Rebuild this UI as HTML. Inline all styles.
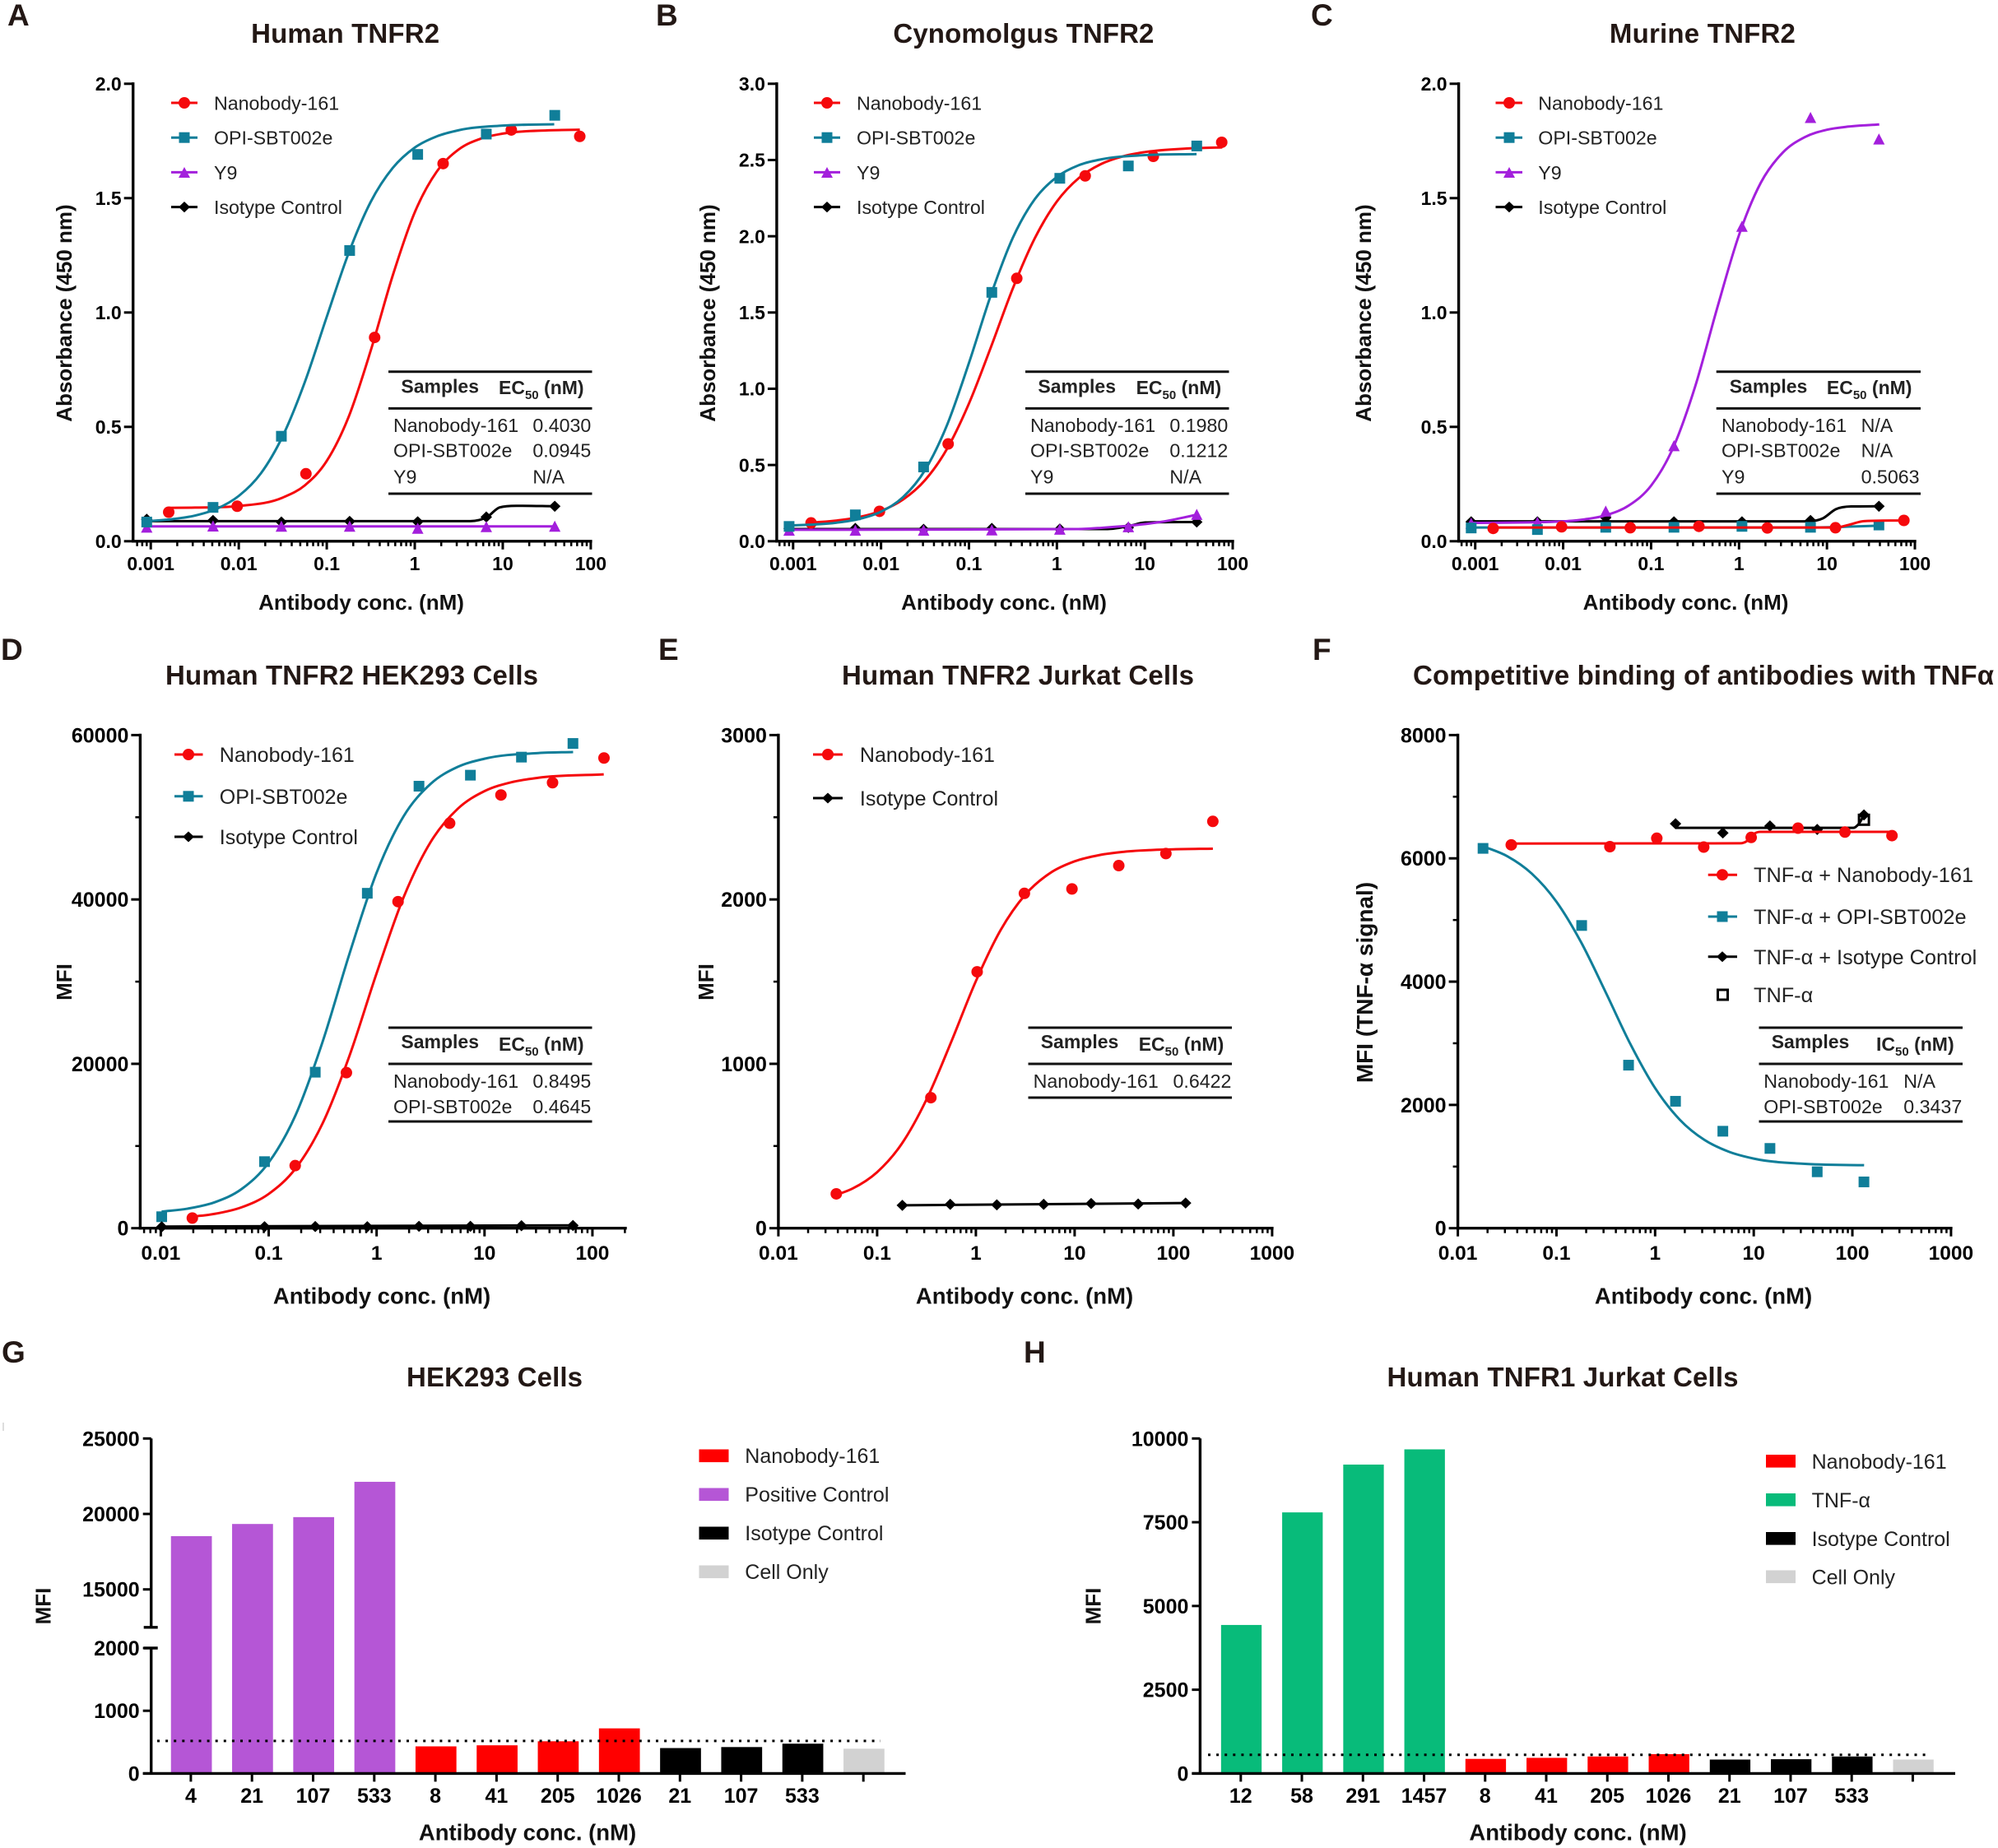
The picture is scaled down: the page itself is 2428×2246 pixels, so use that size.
<!DOCTYPE html>
<html lang="en">
<head>
<meta charset="utf-8">
<title>Antibody binding figure</title>
<style>
html,body{margin:0;padding:0;background:#fff}
svg{display:block;font-family:"Liberation Sans",Arial,sans-serif}
.letter{font-size:37px;font-weight:700;fill:#231815}
.title{font-size:33px;font-weight:700;fill:#231815;text-anchor:middle}
.axt{font-size:26px;font-weight:700;fill:#111;text-anchor:middle}
.axt2{font-size:27.5px;font-weight:700;fill:#111;text-anchor:middle}
.leg{font-size:23.2px;fill:#222}
.leg2{font-size:25px;fill:#222}
.leg3{font-size:25.3px;fill:#222}
.th{font-size:23px;font-weight:700;fill:#222}
.thc{font-size:23px;font-weight:700;fill:#222;text-anchor:middle}
.td{font-size:23.2px;fill:#222}
.rule{stroke:#111;stroke-width:3}
.ln{stroke-width:3;fill:none}
</style>
</head>
<body>
<svg id="figure" xmlns="http://www.w3.org/2000/svg" width="2428" height="2246" viewBox="0 0 2428 2246">
<rect width="2428" height="2246" fill="#fff"/>

<!-- panel letters -->
<text class="letter" x="9" y="31">A</text>
<text class="letter" x="797" y="31">B</text>
<text class="letter" x="1593" y="31">C</text>
<text class="letter" x="1" y="802">D</text>
<text class="letter" x="800" y="802">E</text>
<text class="letter" x="1595" y="802">F</text>
<text class="letter" x="2" y="1656">G</text>
<text class="letter" x="1244" y="1656">H</text>
<line x1="4" y1="1729" x2="4" y2="1739" stroke="#bbb" stroke-width="1"/>

<!-- titles -->
<text class="title" x="419.6" y="52" textLength="229">Human TNFR2</text>
<text class="title" x="1243.9" y="52" textLength="317">Cynomolgus TNFR2</text>
<text class="title" x="2068.9" y="52" textLength="226">Murine TNFR2</text>
<text class="title" x="427.5" y="832" textLength="453">Human TNFR2 HEK293 Cells</text>
<text class="title" x="1237" y="832" textLength="428">Human TNFR2 Jurkat Cells</text>
<text class="title" x="2070" y="832" textLength="706">Competitive binding of antibodies with TNFα</text>
<text class="title" x="601" y="1685" textLength="214">HEK293 Cells</text>
<text class="title" x="1899" y="1685" textLength="427">Human TNFR1 Jurkat Cells</text>

<!-- x axis titles -->
<text class="axt" x="439" y="741">Antibody conc. (nM)</text>
<text class="axt" x="1220" y="741">Antibody conc. (nM)</text>
<text class="axt" x="2048.5" y="741">Antibody conc. (nM)</text>
<text class="axt2" x="464" y="1584.5">Antibody conc. (nM)</text>
<text class="axt2" x="1245" y="1584.5">Antibody conc. (nM)</text>
<text class="axt2" x="2070" y="1584.5">Antibody conc. (nM)</text>
<text class="axt2" x="641" y="2236.5">Antibody conc. (nM)</text>
<text class="axt2" x="1917.5" y="2236.5">Antibody conc. (nM)</text>

<!-- y axis titles -->
<text class="axt" transform="translate(87,380.5) rotate(-90)">Absorbance (450 nm)</text>
<text class="axt" transform="translate(869,380.5) rotate(-90)">Absorbance (450 nm)</text>
<text class="axt" transform="translate(1666,380.5) rotate(-90)">Absorbance (450 nm)</text>
<text class="axt" transform="translate(87,1193.5) rotate(-90)">MFI</text>
<text class="axt" transform="translate(867,1193.5) rotate(-90)">MFI</text>
<text class="axt" style="font-size:28px" transform="translate(1668,1194) rotate(-90)">MFI (TNF-α signal)</text>
<text class="axt" transform="translate(61.5,1952) rotate(-90)">MFI</text>
<text class="axt" transform="translate(1337.5,1952) rotate(-90)">MFI</text>

<!-- plot layers filled by script -->
<g id="plot-a"></g>
<g id="plot-b"></g>
<g id="plot-c"></g>
<g id="plot-d"></g>
<g id="plot-e"></g>
<g id="plot-f"></g>
<g id="plot-g"></g>
<g id="plot-h"></g>

<!-- legend A -->
<g>
<line class="ln" x1="208" x2="240" y1="125" y2="125" stroke="#f5090c"/>
<circle cx="224" cy="125" r="7" fill="#f5090c"/>
<text class="leg" x="260" y="133.5">Nanobody-161</text>
<line class="ln" x1="208" x2="240" y1="167.2" y2="167.2" stroke="#107e99"/>
<rect x="217.5" y="160.7" width="13" height="13" fill="#107e99"/>
<text class="leg" x="260" y="175.7">OPI-SBT002e</text>
<line class="ln" x1="208" x2="240" y1="209.4" y2="209.4" stroke="#a31fdc"/>
<polygon points="224,203 231,216 217,216" fill="#a31fdc"/>
<text class="leg" x="260" y="217.9">Y9</text>
<line class="ln" x1="208" x2="240" y1="251.6" y2="251.6" stroke="#000"/>
<polygon points="224,245 231,251.6 224,258.2 217,251.6" fill="#000"/>
<text class="leg" x="260" y="260.1">Isotype Control</text>
</g>
<!-- legend B -->
<g>
<line class="ln" x1="989" x2="1021" y1="125" y2="125" stroke="#f5090c"/>
<circle cx="1005" cy="125" r="7" fill="#f5090c"/>
<text class="leg" x="1041" y="133.5">Nanobody-161</text>
<line class="ln" x1="989" x2="1021" y1="167.2" y2="167.2" stroke="#107e99"/>
<rect x="998.5" y="160.7" width="13" height="13" fill="#107e99"/>
<text class="leg" x="1041" y="175.7">OPI-SBT002e</text>
<line class="ln" x1="989" x2="1021" y1="209.4" y2="209.4" stroke="#a31fdc"/>
<polygon points="1005,203 1012,216 998,216" fill="#a31fdc"/>
<text class="leg" x="1041" y="217.9">Y9</text>
<line class="ln" x1="989" x2="1021" y1="251.6" y2="251.6" stroke="#000"/>
<polygon points="1005,245 1012,251.6 1005,258.2 998,251.6" fill="#000"/>
<text class="leg" x="1041" y="260.1">Isotype Control</text>
</g>
<!-- legend C -->
<g>
<line class="ln" x1="1817.5" x2="1850" y1="125" y2="125" stroke="#f5090c"/>
<circle cx="1834" cy="125" r="7" fill="#f5090c"/>
<text class="leg" x="1869.3" y="133.5">Nanobody-161</text>
<line class="ln" x1="1817.5" x2="1850" y1="167.2" y2="167.2" stroke="#107e99"/>
<rect x="1827.5" y="160.7" width="13" height="13" fill="#107e99"/>
<text class="leg" x="1869.3" y="175.7">OPI-SBT002e</text>
<line class="ln" x1="1817.5" x2="1850" y1="209.4" y2="209.4" stroke="#a31fdc"/>
<polygon points="1834,203 1841,216 1827,216" fill="#a31fdc"/>
<text class="leg" x="1869.3" y="217.9">Y9</text>
<line class="ln" x1="1817.5" x2="1850" y1="251.6" y2="251.6" stroke="#000"/>
<polygon points="1834,245 1841,251.6 1834,258.2 1827,251.6" fill="#000"/>
<text class="leg" x="1869.3" y="260.1">Isotype Control</text>
</g>
<!-- legend D -->
<g>
<line class="ln" x1="212" x2="246.5" y1="917" y2="917" stroke="#f5090c"/>
<circle cx="229" cy="917" r="7" fill="#f5090c"/>
<text class="leg2" x="266.8" y="926">Nanobody-161</text>
<line class="ln" x1="212" x2="246.5" y1="967.8" y2="967.8" stroke="#107e99"/>
<rect x="222.5" y="961.3" width="13" height="13" fill="#107e99"/>
<text class="leg2" x="266.8" y="976.8">OPI-SBT002e</text>
<line class="ln" x1="212" x2="246.5" y1="1017" y2="1017" stroke="#000"/>
<polygon points="229,1010.5 236,1017 229,1023.5 222,1017" fill="#000"/>
<text class="leg2" x="266.8" y="1026">Isotype Control</text>
</g>
<!-- legend E -->
<g>
<line class="ln" x1="988" x2="1024" y1="917" y2="917" stroke="#f5090c"/>
<circle cx="1006" cy="917" r="7" fill="#f5090c"/>
<text class="leg2" x="1044.9" y="926">Nanobody-161</text>
<line class="ln" x1="988" x2="1024" y1="970" y2="970" stroke="#000"/>
<polygon points="1006,963.5 1013,970 1006,976.5 999,970" fill="#000"/>
<text class="leg2" x="1044.9" y="979">Isotype Control</text>
</g>
<!-- legend F -->
<g>
<line class="ln" x1="2075.7" x2="2111" y1="1063.2" y2="1063.2" stroke="#f5090c"/>
<circle cx="2093" cy="1063.2" r="7" fill="#f5090c"/>
<text class="leg3" x="2131" y="1072">TNF-α + Nanobody-161</text>
<line class="ln" x1="2075.7" x2="2111" y1="1114" y2="1114" stroke="#107e99"/>
<rect x="2086.5" y="1107.5" width="13" height="13" fill="#107e99"/>
<text class="leg3" x="2131" y="1123">TNF-α + OPI-SBT002e</text>
<line class="ln" x1="2075.7" x2="2111" y1="1162.8" y2="1162.8" stroke="#000"/>
<polygon points="2093,1156.3 2100,1162.8 2093,1169.3 2086,1162.8" fill="#000"/>
<text class="leg3" x="2131" y="1171.8">TNF-α + Isotype Control</text>
<rect x="2087.5" y="1203" width="12" height="12" fill="none" stroke="#000" stroke-width="3"/>
<text class="leg3" x="2131" y="1218">TNF-α</text>
</g>
<!-- legend G -->
<g>
<rect x="849.5" y="1761.5" width="36" height="15.6" fill="#ff0000"/>
<text class="leg2" x="905.3" y="1778">Nanobody-161</text>
<rect x="849.5" y="1808.5" width="36" height="15.6" fill="#b556d6"/>
<text class="leg2" x="905.3" y="1825">Positive Control</text>
<rect x="849.5" y="1855.5" width="36" height="15.6" fill="#000"/>
<text class="leg2" x="905.3" y="1872">Isotype Control</text>
<rect x="849.5" y="1902.5" width="36" height="15.6" fill="#d2d2d2"/>
<text class="leg2" x="905.3" y="1919">Cell Only</text>
</g>
<!-- legend H -->
<g>
<rect x="2146" y="1768" width="36" height="15.6" fill="#ff0000"/>
<text class="leg2" x="2201.6" y="1785">Nanobody-161</text>
<rect x="2146" y="1815" width="36" height="15.6" fill="#08bb7a"/>
<text class="leg2" x="2201.6" y="1832">TNF-α</text>
<rect x="2146" y="1862" width="36" height="15.6" fill="#000"/>
<text class="leg2" x="2201.6" y="1879">Isotype Control</text>
<rect x="2146" y="1908.5" width="36" height="15.6" fill="#d2d2d2"/>
<text class="leg2" x="2201.6" y="1925.5">Cell Only</text>
</g>

<!-- table A -->
<g>
<line class="rule" x1="472" x2="719.5" y1="451.8" y2="451.8"/>
<line class="rule" x1="472" x2="719.5" y1="496.4" y2="496.4"/>
<line class="rule" x1="472" x2="719.5" y1="600" y2="600"/>
<text class="thc" x="534.7" y="477.5">Samples</text>
<text class="th" x="606" y="479" font-size="22">EC<tspan font-size="15" dy="6">50</tspan><tspan dy="-6"> (nM)</tspan></text>
<text class="td" x="478" y="525">Nanobody-161</text>
<text class="td" x="647.4" y="525">0.4030</text>
<text class="td" x="478" y="555.5">OPI-SBT002e</text>
<text class="td" x="647.4" y="555.5">0.0945</text>
<text class="td" x="478" y="587.5">Y9</text>
<text class="td" x="647.4" y="587.5">N/A</text>
</g>
<!-- table B -->
<g>
<line class="rule" x1="1246" x2="1493.5" y1="451.8" y2="451.8"/>
<line class="rule" x1="1246" x2="1493.5" y1="496.4" y2="496.4"/>
<line class="rule" x1="1246" x2="1493.5" y1="600" y2="600"/>
<text class="thc" x="1308.7" y="477.5">Samples</text>
<text class="th" x="1380.6" y="479" font-size="22">EC<tspan font-size="15" dy="6">50</tspan><tspan dy="-6"> (nM)</tspan></text>
<text class="td" x="1252" y="525">Nanobody-161</text>
<text class="td" x="1421.4" y="525">0.1980</text>
<text class="td" x="1252" y="555.5">OPI-SBT002e</text>
<text class="td" x="1421.4" y="555.5">0.1212</text>
<text class="td" x="1252" y="587.5">Y9</text>
<text class="td" x="1421.4" y="587.5">N/A</text>
</g>
<!-- table C -->
<g>
<line class="rule" x1="2085.7" x2="2334" y1="451.8" y2="451.8"/>
<line class="rule" x1="2085.7" x2="2334" y1="496.4" y2="496.4"/>
<line class="rule" x1="2085.7" x2="2334" y1="600" y2="600"/>
<text class="thc" x="2149" y="477.5">Samples</text>
<text class="th" x="2219.9" y="479" font-size="22">EC<tspan font-size="15" dy="6">50</tspan><tspan dy="-6"> (nM)</tspan></text>
<text class="td" x="2092" y="525">Nanobody-161</text>
<text class="td" x="2261.6" y="525">N/A</text>
<text class="td" x="2092" y="555.5">OPI-SBT002e</text>
<text class="td" x="2261.6" y="555.5">N/A</text>
<text class="td" x="2092" y="587.5">Y9</text>
<text class="td" x="2261.6" y="587.5">0.5063</text>
</g>
<!-- table D -->
<g>
<line class="rule" x1="472" x2="719.5" y1="1249" y2="1249"/>
<line class="rule" x1="472" x2="719.5" y1="1293" y2="1293"/>
<line class="rule" x1="472" x2="719.5" y1="1363" y2="1363"/>
<text class="thc" x="534.7" y="1274">Samples</text>
<text class="th" x="606" y="1277" font-size="22">EC<tspan font-size="15" dy="6">50</tspan><tspan dy="-6"> (nM)</tspan></text>
<text class="td" x="478" y="1321.8">Nanobody-161</text>
<text class="td" x="647.4" y="1321.8">0.8495</text>
<text class="td" x="478" y="1353">OPI-SBT002e</text>
<text class="td" x="647.4" y="1353">0.4645</text>
</g>
<!-- table E -->
<g>
<line class="rule" x1="1249.5" x2="1497" y1="1249" y2="1249"/>
<line class="rule" x1="1249.5" x2="1497" y1="1293" y2="1293"/>
<line class="rule" x1="1249.5" x2="1497" y1="1334" y2="1334"/>
<text class="thc" x="1312" y="1274">Samples</text>
<text class="th" x="1383.7" y="1277" font-size="22">EC<tspan font-size="15" dy="6">50</tspan><tspan dy="-6"> (nM)</tspan></text>
<text class="td" x="1255.6" y="1321.8">Nanobody-161</text>
<text class="td" x="1425.5" y="1321.8">0.6422</text>
</g>
<!-- table F -->
<g>
<line class="rule" x1="2137.5" x2="2385" y1="1249" y2="1249"/>
<line class="rule" x1="2137.5" x2="2385" y1="1293" y2="1293"/>
<line class="rule" x1="2137.5" x2="2385" y1="1363" y2="1363"/>
<text class="thc" x="2200" y="1274">Samples</text>
<text class="th" x="2280" y="1277" font-size="22">IC<tspan font-size="15" dy="6">50</tspan><tspan dy="-6"> (nM)</tspan></text>
<text class="td" x="2143.3" y="1321.8">Nanobody-161</text>
<text class="td" x="2313.3" y="1321.8">N/A</text>
<text class="td" x="2143.3" y="1353">OPI-SBT002e</text>
<text class="td" x="2313.3" y="1353">0.3437</text>
</g>
</svg>

<script>
/* ---------- Shared ELISA concentrations (nM) ---------- */
const elisaConcNano = [0.0016, 0.0096, 0.058, 0.35, 2.1, 12.5, 75];
const elisaConcOther = [0.0009, 0.0051, 0.0305, 0.182, 1.08, 6.5, 39];
const elisaTicks = [0.001, 0.01, 0.1, 1, 10, 100];
const elisaTickLabels = ['0.001', '0.01', '0.1', '1', '10', '100'];

/* ---------- Panel A ---------- */
const aYTicks = [0, 0.5, 1, 1.5, 2];
const aYTickLabels = ['0.0', '0.5', '1.0', '1.5', '2.0'];
const aNano = [0.127, 0.153, 0.295, 0.891, 1.651, 1.798, 1.770];
const aOpi = [0.084, 0.148, 0.459, 1.271, 1.691, 1.780, 1.862];
const aY9 = [0.061, 0.066, 0.065, 0.065, 0.056, 0.063, 0.065];
const aIso = [0.096, 0.091, 0.084, 0.087, 0.085, 0.106, 0.153];
const aNanoFitLogC = [-2.795, -2.5, -2, -1.5, -1.25, -1, -0.75, -0.5, -0.25, 0, 0.25, 0.5, 0.75, 1, 1.5, 1.876];
const aNanoFit = [0.146, 0.147, 0.154, 0.191, 0.244, 0.351, 0.545, 0.834, 1.162, 1.438, 1.616, 1.713, 1.76, 1.782, 1.796, 1.799];
const aOpiFitLogC = [-3.048, -2.75, -2.5, -2.25, -2, -1.75, -1.5, -1.25, -1, -0.75, -0.5, -0.25, 0, 0.25, 0.5, 1, 1.585];
const aOpiFit = [0.0875, 0.097, 0.112, 0.142, 0.198, 0.296, 0.46, 0.695, 0.981, 1.261, 1.484, 1.632, 1.721, 1.77, 1.797, 1.817, 1.823];
const aY9FitLogC = [-3.048, 1.59];
const aY9Fit = [0.065, 0.065];
const aIsoFitLogC = [-3.048, 0.631, 0.822, 0.965, 1.155, 1.59];
const aIsoFit = [0.088, 0.088, 0.106, 0.148, 0.155, 0.153];

/* ---------- Panel B ---------- */
const bYTicks = [0, 0.5, 1, 1.5, 2, 2.5, 3];
const bYTickLabels = ['0.0', '0.5', '1.0', '1.5', '2.0', '2.5', '3.0'];
const bNano = [0.120, 0.196, 0.638, 1.724, 2.396, 2.524, 2.616];
const bOpi = [0.097, 0.173, 0.487, 1.632, 2.380, 2.461, 2.592];
const bY9 = [0.071, 0.071, 0.071, 0.073, 0.078, 0.094, 0.175];
const bIso = [0.084, 0.084, 0.078, 0.084, 0.080, 0.090, 0.126];
const bNanoFitLogC = [-2.79, -2.5, -2.25, -2, -1.75, -1.5, -1.25, -1, -0.75, -0.5, -0.25, 0, 0.25, 0.5, 0.75, 1, 1.5, 1.881];
const bNanoFit = [0.122, 0.136, 0.158, 0.199, 0.273, 0.4, 0.605, 0.903, 1.273, 1.659, 1.988, 2.228, 2.382, 2.473, 2.524, 2.552, 2.576, 2.583];
const bOpiFitLogC = [-3.043, -2.75, -2.5, -2.25, -2, -1.75, -1.5, -1.25, -1, -0.75, -0.5, -0.25, 0, 0.25, 0.5, 1, 1.589];
const bOpiFit = [0.104, 0.11, 0.122, 0.146, 0.194, 0.289, 0.466, 0.761, 1.169, 1.615, 1.991, 2.244, 2.389, 2.466, 2.504, 2.532, 2.539];
const bY9FitLogC = [-3.043, 0.243, 0.529, 0.82, 1.198, 1.599];
const bY9Fit = [0.075, 0.08, 0.089, 0.102, 0.128, 0.175];
const bIsoFitLogC = [-3.043, 0.577, 0.82, 1.007, 1.599];
const bIsoFit = [0.08, 0.08, 0.1, 0.123, 0.126];

/* ---------- Panel C ---------- */
const cYTicks = [0, 0.5, 1, 1.5, 2];
const cYTickLabels = ['0.0', '0.5', '1.0', '1.5', '2.0'];
const cNano = [0.056, 0.063, 0.059, 0.065, 0.058, 0.059, 0.091];
const cOpi = [0.058, 0.051, 0.061, 0.061, 0.065, 0.061, 0.071];
const cY9 = [0.078, 0.082, 0.131, 0.417, 1.376, 1.852, 1.758];
const cIso = [0.085, 0.085, 0.103, 0.085, 0.085, 0.091, 0.153];
const cNanoFitLogC = [-2.797, 1.101, 1.25, 1.422, 1.877];
const cNanoFit = [0.06, 0.06, 0.072, 0.088, 0.091];
const cOpiFitLogC = [-3.044, 0.819, 1.595];
const cOpiFit = [0.06, 0.06, 0.068];
const cY9FitLogC = [-3.044, -2, -1.75, -1.5, -1.25, -1, -0.75, -0.5, -0.25, 0, 0.25, 0.5, 0.75, 1, 1.25, 1.595];
const cY9Fit = [0.08, 0.087, 0.096, 0.115, 0.157, 0.243, 0.408, 0.675, 1.017, 1.339, 1.569, 1.7, 1.767, 1.799, 1.813, 1.822];
const cIsoFitLogC = [-3.044, 0.78, 0.953, 1.101, 1.274, 1.595];
const cIsoFit = [0.087, 0.087, 0.1, 0.14, 0.152, 0.153];

/* ---------- Panel D ---------- */
const dXTicks = [0.01, 0.1, 1, 10, 100];
const dXTickLabels = ['0.01', '0.1', '1', '10', '100'];
const dYTicks = [0, 20000, 40000, 60000];
const dYTickLabels = ['0', '20000', '40000', '60000'];
const dYMinorTicks = [10000, 30000, 50000];
const dNanoConc = [0.0196, 0.176, 0.525, 1.58, 4.75, 14.2, 42.7, 128];
const dNano = [1233, 7614, 18928, 39732, 49276, 52708, 54209, 57212];
const dOtherConc = [0.0102, 0.0915, 0.27, 0.82, 2.47, 7.4, 22, 66];
const dOpi = [1394, 8097, 18981, 40751, 53780, 55121, 57319, 58981];
const dIso = [160, 180, 200, 180, 230, 230, 300, 330];
const dNanoFitLogC = [-1.708, -1.5, -1.25, -1, -0.75, -0.5, -0.25, 0, 0.25, 0.5, 0.75, 1, 1.25, 1.5, 2.105];
const dNanoFit = [1400, 1744, 2547, 4171, 7283, 12772, 21037, 31018, 40259, 46976, 51010, 53182, 54268, 54810, 55220];
const dOpiFitLogC = [-1.992, -1.75, -1.5, -1.25, -1, -0.75, -0.5, -0.25, 0, 0.25, 0.5, 0.75, 1, 1.5, 1.821];
const dOpiFit = [2021, 2380, 3158, 4774, 7990, 13782, 22700, 33453, 43250, 50118, 54059, 56120, 57124, 57813, 57940];
const dIsoFitLogC = [-1.992, 1.821];
const dIsoFit = [200, 350];

/* ---------- Panel E ---------- */
const eXTicks = [0.01, 0.1, 1, 10, 100, 1000];
const eXTickLabels = ['0.01', '0.1', '1', '10', '100', '1000'];
const eYTicks = [0, 1000, 2000, 3000];
const eYTickLabels = ['0', '1000', '2000', '3000'];
const eYMinorTicks = [500, 1500, 2500];
const eNanoConc = [0.0386, 0.35, 1.03, 3.1, 9.4, 28, 84, 251];
const eNano = [209, 794, 1560, 2037, 2064, 2206, 2279, 2475];
const eIsoConc = [0.18, 0.55, 1.63, 4.86, 14.7, 44, 133];
const eIso = [139, 145, 142, 145, 150, 147, 153];
const eNanoFitLogC = [-1.413, -1.25, -1, -0.75, -0.5, -0.25, 0, 0.25, 0.5, 0.75, 1, 1.25, 1.5, 2, 2.4];
const eNanoFit = [202, 241, 341, 514, 783, 1133, 1503, 1813, 2029, 2160, 2232, 2270, 2290, 2305, 2309];
const eIsoFitLogC = [-0.741, 2.124];
const eIsoFit = [139, 153];

/* ---------- Panel F ---------- */
const fXTicks = [0.01, 0.1, 1, 10, 100, 1000];
const fXTickLabels = ['0.01', '0.1', '1', '10', '100', '1000'];
const fYTicks = [0, 2000, 4000, 6000, 8000];
const fYTickLabels = ['0', '2000', '4000', '6000', '8000'];
const fYMinorTicks = [1000, 3000, 5000, 7000];
const fNanoConc = [0.0348, 0.348, 1.04, 3.11, 9.42, 28.1, 84.1, 252];
const fNano = [6219, 6190, 6326, 6183, 6340, 6490, 6426, 6369];
const fOpiConc = [0.018, 0.18, 0.538, 1.61, 4.86, 14.6, 44, 131];
const fOpi = [6162, 4911, 2645, 2059, 1573, 1294, 915, 751];
const fIsoConc = [1.61, 4.86, 14.6, 44, 131];
const fIso = [6562, 6412, 6526, 6469, 6705];
const fTnfConc = [131];
const fTnf = [6626];
const fNanoFitLogC = [-1.458, 0.863, 0.93, 0.996, 1.062, 2.401];
const fNanoFit = [6240, 6245, 6280, 6390, 6430, 6430];
const fOpiFitLogC = [-1.744, -1.5, -1.25, -1, -0.75, -0.5, -0.25, 0, 0.25, 0.5, 0.75, 1, 1.5, 2.119];
const fOpiFit = [6197, 6036, 5752, 5296, 4638, 3824, 2985, 2273, 1760, 1432, 1239, 1129, 1045, 1022];
const fIsoFitLogC = [0.207, 2.009, 2.066, 2.119];
const fIsoFit = [6495, 6495, 6562, 6705];

/* ---------- Panel G ---------- */
const gPositiveLabels = ['4', '21', '107', '533'];
const gPositive = [18528, 19335, 19790, 22130];
const gNanoLabels = ['8', '41', '205', '1026'];
const gNano = [432, 449, 513, 719];
const gIsoLabels = ['21', '107', '533'];
const gIso = [405, 421, 475];
const gCellLabels = [''];
const gCell = [395];
const gCutoff = [518];
const gLowTicks = [0, 1000, 2000];
const gHighTicks = [15000, 20000, 25000];

/* ---------- Panel H ---------- */
const hTnfLabels = ['12', '58', '291', '1457'];
const hTnf = [4433, 7794, 9221, 9676];
const hNanoLabels = ['8', '41', '205', '1026'];
const hNano = [435, 466, 506, 577];
const hIsoLabels = ['21', '107', '533'];
const hIso = [415, 425, 506];
const hCellLabels = [''];
const hCell = [415];
const hCutoff = [557];
const hYTicks = [0, 2500, 5000, 7500, 10000];

/* ---------- Styling ---------- */
const RED = '#f5090c', TEAL = '#107e99', VIOLET = '#a31fdc', BLACK = '#000';
const SVGNS = 'http://www.w3.org/2000/svg';

function make(parent, tag, name, attrs, text) {
  const el = document.createElementNS(SVGNS, tag);
  
  
  for (const k in attrs) el.setAttribute(k, attrs[k]);
  if (text !== undefined) el.textContent = text;
  parent.appendChild(el);
  return el;
}

function seg(parent, name, x1, y1, x2, y2, w) {
  return make(parent, 'line', name, {x1, y1, x2, y2, stroke: '#000', 'stroke-width': w || 3.4});
}

/* Smooth C1 spline through pixel points: parabolic tangents, clamped to avoid overshoot */
function smoothPath(px) {
  const n = px.length;
  if (n < 3) return 'M' + px.map(p => p[0].toFixed(2) + ' ' + p[1].toFixed(2)).join('L');
  const dx = [], s = [], m = new Array(n);
  for (let i = 0; i < n - 1; i++) {
    dx[i] = px[i + 1][0] - px[i][0];
    s[i] = (px[i + 1][1] - px[i][1]) / dx[i];
  }
  m[0] = s[0];
  m[n - 1] = s[n - 2];
  for (let i = 1; i < n - 1; i++) {
    if (s[i - 1] * s[i] <= 0) { m[i] = 0; continue; }
    const t = (dx[i] * s[i - 1] + dx[i - 1] * s[i]) / (dx[i] + dx[i - 1]);
    const lim = 3 * Math.min(Math.abs(s[i - 1]), Math.abs(s[i]));
    m[i] = Math.sign(t) * Math.min(Math.abs(t), lim);
  }
  let d = 'M' + px[0][0].toFixed(2) + ' ' + px[0][1].toFixed(2);
  for (let i = 0; i < n - 1; i++) {
    const h = dx[i] / 3;
    d += 'C' + (px[i][0] + h).toFixed(2) + ' ' + (px[i][1] + m[i] * h).toFixed(2) + ' ' +
      (px[i + 1][0] - h).toFixed(2) + ' ' + (px[i + 1][1] - m[i + 1] * h).toFixed(2) + ' ' +
      px[i + 1][0].toFixed(2) + ' ' + px[i + 1][1].toFixed(2);
  }
  return d;
}

function marker(parent, kind, x, y, color, name) {
  if (kind === 'circle') return make(parent, 'circle', name, {cx: x, cy: y, r: 7, fill: color});
  if (kind === 'square') return make(parent, 'rect', name, {x: x - 6.5, y: y - 6.5, width: 13, height: 13, fill: color});
  if (kind === 'open') return make(parent, 'rect', name, {x: x - 6, y: y - 6, width: 12, height: 12, fill: 'none', stroke: color, 'stroke-width': 3});
  if (kind === 'triangle') return make(parent, 'polygon', name, {points: x + ',' + (y - 7) + ' ' + (x + 7) + ',' + (y + 6.5) + ' ' + (x - 7) + ',' + (y + 6.5), fill: color});
  return make(parent, 'polygon', name, {points: x + ',' + (y - 6.8) + ' ' + (x + 7) + ',' + y + ' ' + x + ',' + (y + 6.8) + ' ' + (x - 7) + ',' + y, fill: color});
}

/* Log-x dose-response panel */
function drawDose(p) {
  const g = document.getElementById(p.id);
  const sxLog = l => p.refPx + (l - p.refLog) * p.decade;
  const sx = c => sxLog(Math.log10(c));
  const sy = v => p.y0 - v / p.yMax * (p.y0 - p.yTop);

  p.series.forEach(s => {
    if (s.fitLogC) {
      const pts = s.fitLogC.map((l, i) => [sxLog(l), sy(s.fit[i])]);
      make(g, 'path', 'fit-curve-' + s.name, {d: smoothPath(pts), fill: 'none', stroke: s.color, 'stroke-width': 3});
    }
    s.conc.forEach((c, i) => marker(g, s.kind, sx(c), sy(s.vals[i]), s.color, 'point-' + s.name));
  });

  seg(g, 'y-axis', p.axisX, p.yTop - 1.7, p.axisX, p.y0 + 1.7);
  seg(g, 'x-axis', p.axisX - 1.7, p.y0, p.xEnd + 1.7, p.y0);

  p.yTicks.forEach((v, i) => {
    seg(g, 'y-tick', p.axisX - 11, sy(v), p.axisX, sy(v), 3);
    make(g, 'text', 'y-tick-label', {x: p.axisX - 14, y: sy(v) + p.fs * 0.36, 'text-anchor': 'end', 'font-size': p.fs, 'font-weight': 700, fill: '#000'}, p.yLabels[i]);
  });
  (p.yMinor || []).forEach(v => seg(g, 'y-minor-tick', p.axisX - 6, sy(v), p.axisX, sy(v), 2.5));

  p.xTicks.forEach((c, i) => {
    seg(g, 'x-tick', sx(c), p.y0, sx(c), p.y0 + 10, 3);
    make(g, 'text', 'x-tick-label', {x: sx(c), y: p.xLabelY, 'text-anchor': 'middle', 'font-size': p.xfs, 'font-weight': 700, fill: '#000'}, p.xLabels[i]);
  });
  const lo = Math.floor(p.refLog) - 1, hi = Math.ceil(p.refLog + (p.xEnd - p.refPx) / p.decade);
  for (let d = lo; d <= hi; d++) {
    for (let m = 2; m <= 9; m++) {
      const x = sxLog(d + Math.log10(m));
      if (x >= p.axisX - 0.5 && x <= p.xEnd + 0.5) seg(g, 'x-minor-tick', x, p.y0, x, p.y0 + 6, 2.5);
    }
  }
}

drawDose({
  id: 'plot-a', axisX: 161.7, yTop: 101.8, y0: 657.8, refLog: -3, refPx: 183.2, decade: 106.94, xEnd: 717.9,
  yMax: 2, yTicks: aYTicks, yLabels: aYTickLabels, xTicks: elisaTicks, xLabels: elisaTickLabels, xLabelY: 693, fs: 23, xfs: 23,
  series: [
    {name: 'isotype', kind: 'diamond', color: BLACK, conc: elisaConcOther, vals: aIso, fitLogC: aIsoFitLogC, fit: aIsoFit},
    {name: 'y9', kind: 'triangle', color: VIOLET, conc: elisaConcOther, vals: aY9, fitLogC: aY9FitLogC, fit: aY9Fit},
    {name: 'nanobody', kind: 'circle', color: RED, conc: elisaConcNano, vals: aNano, fitLogC: aNanoFitLogC, fit: aNanoFit},
    {name: 'opi', kind: 'square', color: TEAL, conc: elisaConcOther, vals: aOpi, fitLogC: aOpiFitLogC, fit: aOpiFit}
  ]
});
drawDose({
  id: 'plot-b', axisX: 943.9, yTop: 101.8, y0: 657.8, refLog: -3, refPx: 963.8, decade: 106.84, xEnd: 1498,
  yMax: 3, yTicks: bYTicks, yLabels: bYTickLabels, xTicks: elisaTicks, xLabels: elisaTickLabels, xLabelY: 693, fs: 23, xfs: 23,
  series: [
    {name: 'isotype', kind: 'diamond', color: BLACK, conc: elisaConcOther, vals: bIso, fitLogC: bIsoFitLogC, fit: bIsoFit},
    {name: 'y9', kind: 'triangle', color: VIOLET, conc: elisaConcOther, vals: bY9, fitLogC: bY9FitLogC, fit: bY9Fit},
    {name: 'nanobody', kind: 'circle', color: RED, conc: elisaConcNano, vals: bNano, fitLogC: bNanoFitLogC, fit: bNanoFit},
    {name: 'opi', kind: 'square', color: TEAL, conc: elisaConcOther, vals: bOpi, fitLogC: bOpiFitLogC, fit: bOpiFit}
  ]
});
drawDose({
  id: 'plot-c', axisX: 1772.6, yTop: 101.8, y0: 657.8, refLog: -3, refPx: 1792.7, decade: 106.86, xEnd: 2327,
  yMax: 2, yTicks: cYTicks, yLabels: cYTickLabels, xTicks: elisaTicks, xLabels: elisaTickLabels, xLabelY: 693, fs: 23, xfs: 23,
  series: [
    {name: 'isotype', kind: 'diamond', color: BLACK, conc: elisaConcOther, vals: cIso, fitLogC: cIsoFitLogC, fit: cIsoFit},
    {name: 'y9', kind: 'triangle', color: VIOLET, conc: elisaConcOther, vals: cY9, fitLogC: cY9FitLogC, fit: cY9Fit},
    {name: 'opi', kind: 'square', color: TEAL, conc: elisaConcOther, vals: cOpi, fitLogC: cOpiFitLogC, fit: cOpiFit},
    {name: 'nanobody', kind: 'circle', color: RED, conc: elisaConcNano, vals: cNano, fitLogC: cNanoFitLogC, fit: cNanoFit}
  ]
});
drawDose({
  id: 'plot-d', axisX: 170.4, yTop: 893.4, y0: 1492.7, refLog: -2, refPx: 195.4, decade: 131.13, xEnd: 760,
  yMax: 60000, yTicks: dYTicks, yLabels: dYTickLabels, yMinor: dYMinorTicks, xTicks: dXTicks, xLabels: dXTickLabels, xLabelY: 1531, fs: 25, xfs: 24.5,
  series: [
    {name: 'nanobody', kind: 'circle', color: RED, conc: dNanoConc, vals: dNano, fitLogC: dNanoFitLogC, fit: dNanoFit},
    {name: 'opi', kind: 'square', color: TEAL, conc: dOtherConc, vals: dOpi, fitLogC: dOpiFitLogC, fit: dOpiFit},
    {name: 'isotype', kind: 'diamond', color: BLACK, conc: dOtherConc, vals: dIso, fitLogC: dIsoFitLogC, fit: dIsoFit}
  ]
});
drawDose({
  id: 'plot-e', axisX: 945.9, yTop: 893.4, y0: 1492.7, refLog: -2, refPx: 945.9, decade: 120, xEnd: 1545.9,
  yMax: 3000, yTicks: eYTicks, yLabels: eYTickLabels, yMinor: eYMinorTicks, xTicks: eXTicks, xLabels: eXTickLabels, xLabelY: 1531, fs: 25, xfs: 24.5,
  series: [
    {name: 'nanobody', kind: 'circle', color: RED, conc: eNanoConc, vals: eNano, fitLogC: eNanoFitLogC, fit: eNanoFit},
    {name: 'isotype', kind: 'diamond', color: BLACK, conc: eIsoConc, vals: eIso, fitLogC: eIsoFitLogC, fit: eIsoFit}
  ]
});
drawDose({
  id: 'plot-f', axisX: 1771.6, yTop: 893.4, y0: 1492.7, refLog: -2, refPx: 1771.6, decade: 119.86, xEnd: 2370.9,
  yMax: 8000, yTicks: fYTicks, yLabels: fYTickLabels, yMinor: fYMinorTicks, xTicks: fXTicks, xLabels: fXTickLabels, xLabelY: 1531, fs: 25, xfs: 24.5,
  series: [
    {name: 'isotype', kind: 'diamond', color: BLACK, conc: fIsoConc, vals: fIso, fitLogC: fIsoFitLogC, fit: fIsoFit},
    {name: 'opi', kind: 'square', color: TEAL, conc: fOpiConc, vals: fOpi, fitLogC: fOpiFitLogC, fit: fOpiFit},
    {name: 'nanobody', kind: 'circle', color: RED, conc: fNanoConc, vals: fNano, fitLogC: fNanoFitLogC, fit: fNanoFit},
    {name: 'tnf-alpha', kind: 'open', color: BLACK, conc: fTnfConc, vals: fTnf}
  ]
});

/* Bar panels */
function drawBars(p) {
  const g = document.getElementById(p.id);
  const step = p.step;
  let slot = 0;
  const labels = [];
  p.groups.forEach(grp => {
    grp.vals.forEach((v, i) => {
      const x = p.firstX + slot * step;
      const top = p.sy(v);
      make(g, 'rect', 'bar-' + grp.name, {x: x - p.barW / 2 + 0.7, y: top, width: p.barW, height: p.y0 - top, fill: grp.color});
      labels.push([x, grp.labels[i]]);
      slot++;
    });
  });
  const cy = p.sy(p.cutoff[0]);
  make(g, 'line', 'cutoff-line', {x1: p.cutX1, x2: p.cutX2, y1: cy, y2: cy, stroke: '#000', 'stroke-width': 3, 'stroke-dasharray': '3 7.1'});
  labels.forEach(l => {
    seg(g, 'x-tick', l[0], p.y0, l[0], p.y0 + 10, 3);
    if (l[1]) make(g, 'text', 'x-tick-label', {x: l[0], y: 2191, 'text-anchor': 'middle', 'font-size': 25, 'font-weight': 700, fill: '#000'}, l[1]);
  });
  seg(g, 'x-axis', p.axisX - 10, p.y0, p.xEnd, p.y0);
  p.axisParts.forEach(a => seg(g, 'y-axis', p.axisX, a[0], p.axisX, a[1]));
  p.yTicks.forEach(v => {
    const y = p.sy(v);
    seg(g, 'y-tick', p.axisX - 10, y, p.axisX, y, 3);
    make(g, 'text', 'y-tick-label', {x: p.axisX - 14, y: y + 9, 'text-anchor': 'end', 'font-size': 25, 'font-weight': 700, fill: '#000'}, String(v));
  });
  (p.caps || []).forEach(y => seg(g, 'axis-break-cap', p.axisX - 9, y, p.axisX + 8, y));
}

const gScale = v => v <= 2000 ? 2155.4 - v * 0.0762 : 1931.7 - (v - 15000) * 0.01834;
const hScale = v => 2155.4 - v * 0.04071;

drawBars({
  id: 'plot-g', axisX: 183.7, y0: 2155.4, xEnd: 1100.5, firstX: 231.9, step: 74.3, barW: 49.7, sy: gScale,
  cutoff: gCutoff, cutX1: 191, cutX2: 1070, yTicks: gLowTicks.concat(gHighTicks),
  axisParts: [[1748.3, 1977.8], [2003, 2155.4]], caps: [1977.8, 2003],
  groups: [
    {name: 'positive-control', color: '#b556d6', vals: gPositive, labels: gPositiveLabels},
    {name: 'nanobody', color: '#ff0000', vals: gNano, labels: gNanoLabels},
    {name: 'isotype', color: '#000', vals: gIso, labels: gIsoLabels},
    {name: 'cell-only', color: '#d2d2d2', vals: gCell, labels: gCellLabels}
  ]
});
drawBars({
  id: 'plot-h', axisX: 1458.4, y0: 2155.4, xEnd: 2376, firstX: 1507.8, step: 74.24, barW: 49.3, sy: hScale,
  cutoff: hCutoff, cutX1: 1468, cutX2: 2346, yTicks: hYTicks,
  axisParts: [[1748.3, 2155.4]],
  groups: [
    {name: 'tnf-alpha', color: '#08bb7a', vals: hTnf, labels: hTnfLabels},
    {name: 'nanobody', color: '#ff0000', vals: hNano, labels: hNanoLabels},
    {name: 'isotype', color: '#000', vals: hIso, labels: hIsoLabels},
    {name: 'cell-only', color: '#d2d2d2', vals: hCell, labels: hCellLabels}
  ]
});
</script>
</body>
</html>
